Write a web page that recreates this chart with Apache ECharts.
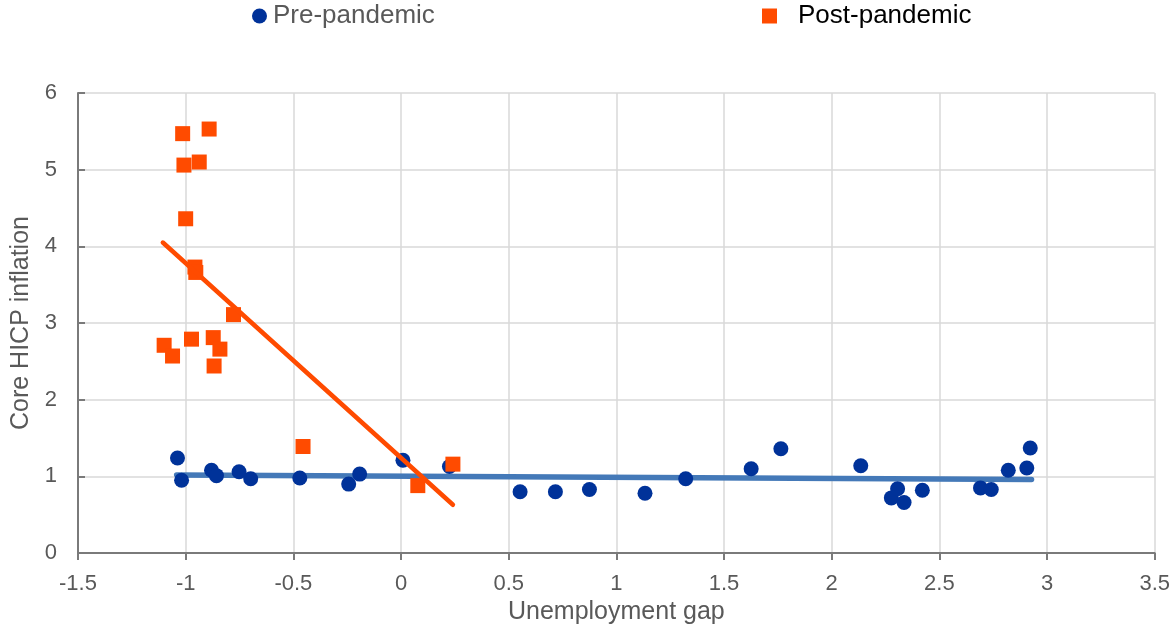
<!DOCTYPE html>
<html>
<head>
<meta charset="utf-8">
<script src="https://cdn.jsdelivr.net/npm/echarts@6/dist/echarts.min.js"></script>
<style>
html,body{margin:0;padding:0;background:#fff;}
#chart{width:1173px;height:630px;}
</style>
</head>
<body>
<div id="chart"></div>
<script>
// Data
const seriesNames = ['Pre-pandemic', 'Post-pandemic'];
const preX = [-1.038, -1.019, -0.880, -0.857, -0.752, -0.698, -0.470, -0.243, -0.192, 0.009, 0.225,
  0.553, 0.717, 0.875, 1.133, 1.322, 1.626, 1.764, 2.135, 2.277, 2.306, 2.336, 2.421,
  2.691, 2.741, 2.820, 2.906, 2.922];
const preY = [1.24, 0.95, 1.08, 1.01, 1.06, 0.97, 0.98, 0.90, 1.03, 1.21, 1.13,
  0.80, 0.80, 0.83, 0.78, 0.97, 1.10, 1.36, 1.14, 0.72, 0.84, 0.66, 0.82,
  0.85, 0.83, 1.08, 1.11, 1.37];
const postX = [-1.100, -1.061, -1.014, -1.008, -1.000, -0.937, -0.891, -0.957, -0.953, -0.973,
  -0.872, -0.868, -0.841, -0.778, -0.455, 0.078, 0.241];
const postY = [2.71, 2.57, 5.47, 5.06, 4.36, 5.10, 5.53, 3.73, 3.66, 2.79,
  2.81, 2.44, 2.66, 3.11, 1.39, 0.88, 1.16];
const preTrendX = [-1.042, 2.928];
const preTrendY = [1.02, 0.96];
const postTrendX = [-1.106, 0.241];
const postTrendY = [4.05, 0.63];
const xTicks = [-1.5, -1, -0.5, 0, 0.5, 1, 1.5, 2, 2.5, 3, 3.5];
const yTicks = [0, 1, 2, 3, 4, 5, 6];

const zip = (a, b) => a.map((v, i) => [v, b[i]]);

const chart = echarts.init(document.getElementById('chart'), null, {renderer: 'canvas'});
const font = '"Liberation Sans", Arial, sans-serif';
const axisGrey = '#7a7a7a';
const labelGrey = '#595959';

chart.setOption({
  animation: false,
  textStyle: {fontFamily: font},
  legend: [
    {
      data: [{name: seriesNames[0], textStyle: {color: labelGrey}}],
      left: 247, top: -2,
      icon: 'circle', itemWidth: 15, itemHeight: 15,
      textStyle: {fontSize: 26, fontFamily: font, padding: [0, 0, 0, 1]}
    },
    {
      data: [{name: seriesNames[1], textStyle: {color: '#000'}}],
      left: 757, top: -2,
      icon: 'rect', itemWidth: 15, itemHeight: 15,
      textStyle: {fontSize: 26, fontFamily: font, padding: [0, 0, 0, 16]}
    }
  ],
  grid: {left: 78, right: 17, top: 93, bottom: 76, containLabel: false},
  xAxis: {
    type: 'value', min: xTicks[0], max: xTicks[xTicks.length - 1], interval: 0.5,
    name: 'Unemployment gap', nameLocation: 'middle', nameGap: 46,
    nameTextStyle: {fontSize: 25, color: labelGrey, fontFamily: font},
    axisLine: {show: true, onZero: false, lineStyle: {color: axisGrey, width: 2}},
    axisTick: {show: true, inside: false, length: 7, lineStyle: {color: axisGrey, width: 2}},
    axisLabel: {fontSize: 22, color: labelGrey, margin: 20, fontFamily: font,
      formatter: v => String(v)},
    splitLine: {show: true, lineStyle: {color: '#d9d9d9', width: 1.5}}
  },
  yAxis: {
    type: 'value', min: yTicks[0], max: yTicks[yTicks.length - 1], interval: 1,
    name: 'Core HICP inflation', nameLocation: 'middle', nameGap: 43, nameRotate: 90,
    nameTextStyle: {fontSize: 25, color: labelGrey, fontFamily: font},
    axisLine: {show: true, onZero: false, lineStyle: {color: axisGrey, width: 2}},
    axisTick: {show: true, inside: true, length: 7, lineStyle: {color: axisGrey, width: 2}},
    axisLabel: {fontSize: 22, color: labelGrey, margin: 21, fontFamily: font},
    splitLine: {show: true, lineStyle: {color: '#d9d9d9', width: 1.5}}
  },
  series: [
    {
      name: 'preTrend', type: 'line', data: zip(preTrendX, preTrendY),
      symbol: 'none', z: 1, silent: true,
      lineStyle: {color: '#4479b8', width: 5.5, cap: 'round'}
    },
    {
      name: seriesNames[0], type: 'scatter', data: zip(preX, preY),
      symbol: 'circle', symbolSize: 15, z: 2,
      itemStyle: {color: '#003299', opacity: 1}
    },
    {
      name: seriesNames[1], type: 'scatter', data: zip(postX, postY),
      symbol: 'rect', symbolSize: 15, z: 3,
      itemStyle: {color: '#ff4b00', opacity: 1}
    },
    {
      name: 'postTrend', type: 'line', data: zip(postTrendX, postTrendY),
      symbol: 'none', z: 4, silent: true,
      lineStyle: {color: '#ff4b00', width: 4.5, cap: 'round'}
    }
  ]
});
</script>
</body>
</html>
